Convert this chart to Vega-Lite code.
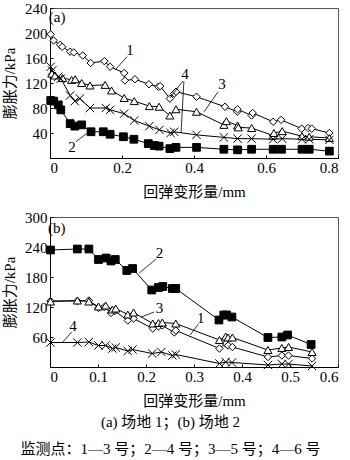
{
  "$schema": "https://vega.github.io/schema/vega-lite/v6.json",
  "background": "white",
  "padding": {"left": 2, "top": 0, "right": 0, "bottom": 0},
  "spacing": 9,
  "config": {
    "view": {"stroke": "#555", "strokeWidth": 1},
    "axis": {
      "domainColor": "black", "tickColor": "black", "tickSize": -3, "grid": false,
      "labelFont": "Liberation Serif", "labelFontSize": 15, "labelColor": "black",
      "titleFont": "Liberation Serif, Noto Sans CJK SC", "titleFontSize": 15,
      "titleFontWeight": "normal", "titleColor": "black"
    },
    "text": {"font": "Liberation Serif", "fontSize": 15, "color": "black"}
  },
  "title": {
    "text": "(a) 场地 1；(b) 场地 2",
    "subtitle": "监测点：1—3 号；2—4 号；3—5 号；4—6 号",
    "orient": "bottom", "anchor": "middle",
    "font": "Liberation Serif, Noto Sans CJK SC", "fontSize": 15, "fontWeight": "normal", "color": "black",
    "subtitleFont": "Liberation Serif, Noto Sans CJK SC", "subtitleFontSize": 15, "subtitleColor": "black",
    "offset": 6, "subtitlePadding": 12
  },
  "datasets": {
    "a": [
      {"s":"1","x":0.002,"y":198},{"s":"1","x":0.01,"y":188},{"s":"1","x":0.028,"y":181},{"s":"1","x":0.034,"y":178},{"s":"1","x":0.056,"y":170},{"s":"1","x":0.066,"y":169},{"s":"1","x":0.091,"y":164},{"s":"1","x":0.113,"y":152},{"s":"1","x":0.151,"y":155},{"s":"1","x":0.167,"y":146},{"s":"1","x":0.206,"y":136},{"s":"1","x":0.208,"y":124},{"s":"1","x":0.236,"y":126},{"s":"1","x":0.275,"y":118},{"s":"1","x":0.301,"y":114},{"s":"1","x":0.306,"y":115},{"s":"1","x":0.333,"y":95},{"s":"1","x":0.345,"y":103},{"s":"1","x":0.35,"y":106},{"s":"1","x":0.407,"y":98},{"s":"1","x":0.486,"y":82},{"s":"1","x":0.52,"y":74},{"s":"1","x":0.521,"y":78},{"s":"1","x":0.56,"y":68},{"s":"1","x":0.563,"y":72},{"s":"1","x":0.62,"y":58},{"s":"1","x":0.642,"y":61},{"s":"1","x":0.699,"y":47},{"s":"1","x":0.717,"y":48},{"s":"1","x":0.727,"y":47},{"s":"1","x":0.776,"y":40},
      {"s":"2","x":0.002,"y":92},{"s":"2","x":0.01,"y":91},{"s":"2","x":0.023,"y":85},{"s":"2","x":0.03,"y":77},{"s":"2","x":0.056,"y":55},{"s":"2","x":0.069,"y":51},{"s":"2","x":0.088,"y":53},{"s":"2","x":0.114,"y":42},{"s":"2","x":0.148,"y":42},{"s":"2","x":0.167,"y":38},{"s":"2","x":0.204,"y":34},{"s":"2","x":0.233,"y":30},{"s":"2","x":0.273,"y":23},{"s":"2","x":0.29,"y":20},{"s":"2","x":0.303,"y":19},{"s":"2","x":0.333,"y":15},{"s":"2","x":0.35,"y":17},{"s":"2","x":0.407,"y":17},{"s":"2","x":0.483,"y":14},{"s":"2","x":0.521,"y":13},{"s":"2","x":0.56,"y":14},{"s":"2","x":0.62,"y":14},{"s":"2","x":0.643,"y":14},{"s":"2","x":0.7,"y":14},{"s":"2","x":0.72,"y":14},{"s":"2","x":0.776,"y":11},
      {"s":"3","x":0.005,"y":135},{"s":"3","x":0.014,"y":132},{"s":"3","x":0.035,"y":128},{"s":"3","x":0.06,"y":125},{"s":"3","x":0.07,"y":126},{"s":"3","x":0.088,"y":120},{"s":"3","x":0.111,"y":116},{"s":"3","x":0.153,"y":117},{"s":"3","x":0.171,"y":108},{"s":"3","x":0.206,"y":96},{"s":"3","x":0.234,"y":91},{"s":"3","x":0.276,"y":83},{"s":"3","x":0.303,"y":82},{"s":"3","x":0.333,"y":68},{"s":"3","x":0.35,"y":78},{"s":"3","x":0.407,"y":74},{"s":"3","x":0.483,"y":53},{"s":"3","x":0.49,"y":59},{"s":"3","x":0.521,"y":52},{"s":"3","x":0.523,"y":49},{"s":"3","x":0.56,"y":48},{"s":"3","x":0.62,"y":36},{"s":"3","x":0.622,"y":40},{"s":"3","x":0.645,"y":43},{"s":"3","x":0.7,"y":35},{"s":"3","x":0.72,"y":34},{"s":"3","x":0.776,"y":32},
      {"s":"4","x":0.002,"y":146},{"s":"4","x":0.006,"y":140},{"s":"4","x":0.023,"y":130},{"s":"4","x":0.03,"y":127},{"s":"4","x":0.056,"y":100},{"s":"4","x":0.069,"y":91},{"s":"4","x":0.083,"y":95},{"s":"4","x":0.111,"y":80},{"s":"4","x":0.155,"y":80},{"s":"4","x":0.167,"y":77},{"s":"4","x":0.206,"y":71},{"s":"4","x":0.234,"y":60},{"s":"4","x":0.276,"y":51},{"s":"4","x":0.304,"y":45},{"s":"4","x":0.335,"y":40},{"s":"4","x":0.345,"y":42},{"s":"4","x":0.407,"y":37},{"s":"4","x":0.483,"y":33},{"s":"4","x":0.521,"y":31},{"s":"4","x":0.56,"y":31},{"s":"4","x":0.62,"y":30},{"s":"4","x":0.645,"y":31},{"s":"4","x":0.7,"y":30},{"s":"4","x":0.72,"y":30},{"s":"4","x":0.776,"y":29}
    ],
    "b": [
      {"s":"1","x":0.001,"y":132},{"s":"1","x":0.057,"y":132},{"s":"1","x":0.081,"y":133},{"s":"1","x":0.101,"y":118},{"s":"1","x":0.113,"y":120},{"s":"1","x":0.127,"y":108},{"s":"1","x":0.135,"y":112},{"s":"1","x":0.162,"y":93},{"s":"1","x":0.174,"y":97},{"s":"1","x":0.214,"y":77},{"s":"1","x":0.226,"y":81},{"s":"1","x":0.234,"y":83},{"s":"1","x":0.259,"y":69},{"s":"1","x":0.262,"y":73},{"s":"1","x":0.353,"y":37},{"s":"1","x":0.366,"y":47},{"s":"1","x":0.371,"y":43},{"s":"1","x":0.38,"y":40},{"s":"1","x":0.454,"y":20},{"s":"1","x":0.483,"y":23},{"s":"1","x":0.497,"y":23},{"s":"1","x":0.546,"y":17},
      {"s":"2","x":0.001,"y":234},{"s":"2","x":0.057,"y":236},{"s":"2","x":0.081,"y":236},{"s":"2","x":0.101,"y":215},{"s":"2","x":0.117,"y":218},{"s":"2","x":0.127,"y":212},{"s":"2","x":0.136,"y":215},{"s":"2","x":0.16,"y":193},{"s":"2","x":0.172,"y":197},{"s":"2","x":0.212,"y":154},{"s":"2","x":0.226,"y":159},{"s":"2","x":0.235,"y":161},{"s":"2","x":0.255,"y":157},{"s":"2","x":0.262,"y":157},{"s":"2","x":0.352,"y":94},{"s":"2","x":0.362,"y":104},{"s":"2","x":0.368,"y":104},{"s":"2","x":0.379,"y":100},{"s":"2","x":0.454,"y":59},{"s":"2","x":0.483,"y":60},{"s":"2","x":0.495,"y":64},{"s":"2","x":0.544,"y":45},
      {"s":"3","x":0.001,"y":131},{"s":"3","x":0.057,"y":133},{"s":"3","x":0.081,"y":131},{"s":"3","x":0.101,"y":121},{"s":"3","x":0.116,"y":123},{"s":"3","x":0.13,"y":115},{"s":"3","x":0.137,"y":117},{"s":"3","x":0.162,"y":105},{"s":"3","x":0.174,"y":109},{"s":"3","x":0.214,"y":87},{"s":"3","x":0.226,"y":88},{"s":"3","x":0.234,"y":89},{"s":"3","x":0.262,"y":87},{"s":"3","x":0.353,"y":54},{"s":"3","x":0.366,"y":61},{"s":"3","x":0.371,"y":59},{"s":"3","x":0.38,"y":59},{"s":"3","x":0.454,"y":34},{"s":"3","x":0.483,"y":38},{"s":"3","x":0.497,"y":40},{"s":"3","x":0.546,"y":30},
      {"s":"4","x":0.001,"y":49},{"s":"4","x":0.057,"y":49},{"s":"4","x":0.081,"y":50},{"s":"4","x":0.101,"y":43},{"s":"4","x":0.116,"y":43},{"s":"4","x":0.13,"y":37},{"s":"4","x":0.137,"y":39},{"s":"4","x":0.162,"y":32},{"s":"4","x":0.172,"y":35},{"s":"4","x":0.213,"y":27},{"s":"4","x":0.232,"y":30},{"s":"4","x":0.255,"y":23},{"s":"4","x":0.262,"y":25},{"s":"4","x":0.353,"y":7},{"s":"4","x":0.366,"y":10},{"s":"4","x":0.379,"y":9},{"s":"4","x":0.454,"y":4},{"s":"4","x":0.483,"y":6},{"s":"4","x":0.497,"y":6},{"s":"4","x":0.546,"y":2}
    ],
    "ta": [
      {"t":"1","x":0.222,"y":173,"al":"center"},{"t":"4","x":0.375,"y":134,"al":"center"},{"t":"3","x":0.478,"y":118,"al":"center"},{"t":"2","x":0.061,"y":18,"al":"center"},{"t":"(a)","x":0.02,"y":226,"al":"left"}
    ],
    "ra": [
      {"x":0.214,"y":162,"x2":0.181,"y2":141},{"x":0.369,"y":123,"x2":0.333,"y2":96},{"x":0.372,"y":123,"x2":0.364,"y2":40},{"x":0.467,"y":106,"x2":0.428,"y2":74},{"x":0.072,"y":26,"x2":0.108,"y2":42}
    ],
    "tb": [
      {"t":"2","x":0.228,"y":228,"al":"center"},{"t":"3","x":0.228,"y":118,"al":"center"},{"t":"1","x":0.314,"y":98,"al":"center"},{"t":"4","x":0.048,"y":82,"al":"center"},{"t":"(b)","x":0.014,"y":278,"al":"left"}
    ],
    "rb": [
      {"x":0.221,"y":216,"x2":0.186,"y2":188},{"x":0.217,"y":110,"x2":0.19,"y2":100},{"x":0.309,"y":86,"x2":0.292,"y2":64},{"x":0.045,"y":70,"x2":0.025,"y2":48}
    ]
  },
  "vconcat": [
    {
      "width": 288, "height": 150,
      "encoding": {
        "x": {"field": "x", "type": "quantitative", "scale": {"domain": [0, 0.8], "nice": false},
              "axis": {"values": [0, 0.2, 0.4, 0.6, 0.8], "format": "~g", "title": "回弹变形量/mm", "labelPadding": 5, "titlePadding": 9}},
        "y": {"field": "y", "type": "quantitative", "scale": {"domain": [0, 240], "nice": false},
              "axis": {"values": [40, 80, 120, 160, 200, 240], "title": "膨胀力/kPa", "labelPadding": 6, "titlePadding": 7}}
      },
      "layer": [
        {"data": {"name": "a"}, "mark": {"type": "line", "color": "black", "strokeWidth": 1}, "encoding": {"detail": {"field": "s"}}},
        {"data": {"name": "a"}, "mark": {"type": "point", "filled": true, "stroke": "black", "strokeWidth": 1, "opacity": 1, "fillOpacity": 1},
         "encoding": {
           "shape": {"field": "s", "scale": {"domain": ["1","2","3","4"], "range": ["diamond","square","triangle-up","M-1,-1L1,1M-1,1L1,-1"]}, "legend": null},
           "fill": {"field": "s", "scale": {"domain": ["1","2","3","4"], "range": ["white","black","white","white"]}, "legend": null},
           "size": {"field": "s", "scale": {"domain": ["1","2","3","4"], "range": [55, 70, 55, 50]}, "legend": null}
         }},
        {"data": {"name": "ra"}, "mark": {"type": "rule", "color": "black", "strokeWidth": 0.8}, "encoding": {"x2": {"field": "x2"}, "y2": {"field": "y2"}}},
        {"data": {"name": "ta"}, "mark": {"type": "text", "baseline": "middle"}, "encoding": {"text": {"field": "t"}, "align": {"field": "al", "type": "nominal", "scale": null}}}
      ]
    },
    {
      "width": 288, "height": 150,
      "encoding": {
        "x": {"field": "x", "type": "quantitative", "scale": {"domain": [0, 0.6], "nice": false},
              "axis": {"values": [0, 0.1, 0.2, 0.3, 0.4, 0.5, 0.6], "format": "~g", "title": "回弹变形量/mm", "labelPadding": 5, "titlePadding": 9}},
        "y": {"field": "y", "type": "quantitative", "scale": {"domain": [0, 300], "nice": false},
              "axis": {"values": [60, 120, 180, 240, 300], "title": "膨胀力/kPa", "labelPadding": 6, "titlePadding": 7}}
      },
      "layer": [
        {"data": {"name": "b"}, "mark": {"type": "line", "color": "black", "strokeWidth": 1}, "encoding": {"detail": {"field": "s"}}},
        {"data": {"name": "b"}, "mark": {"type": "point", "filled": true, "stroke": "black", "strokeWidth": 1, "opacity": 1, "fillOpacity": 1},
         "encoding": {
           "shape": {"field": "s", "scale": {"domain": ["1","2","3","4"], "range": ["diamond","square","triangle-up","M-1,-1L1,1M-1,1L1,-1"]}, "legend": null},
           "fill": {"field": "s", "scale": {"domain": ["1","2","3","4"], "range": ["white","black","white","white"]}, "legend": null},
           "size": {"field": "s", "scale": {"domain": ["1","2","3","4"], "range": [55, 70, 55, 50]}, "legend": null}
         }},
        {"data": {"name": "rb"}, "mark": {"type": "rule", "color": "black", "strokeWidth": 0.8}, "encoding": {"x2": {"field": "x2"}, "y2": {"field": "y2"}}},
        {"data": {"name": "tb"}, "mark": {"type": "text", "baseline": "middle"}, "encoding": {"text": {"field": "t"}, "align": {"field": "al", "type": "nominal", "scale": null}}}
      ]
    }
  ]
}
